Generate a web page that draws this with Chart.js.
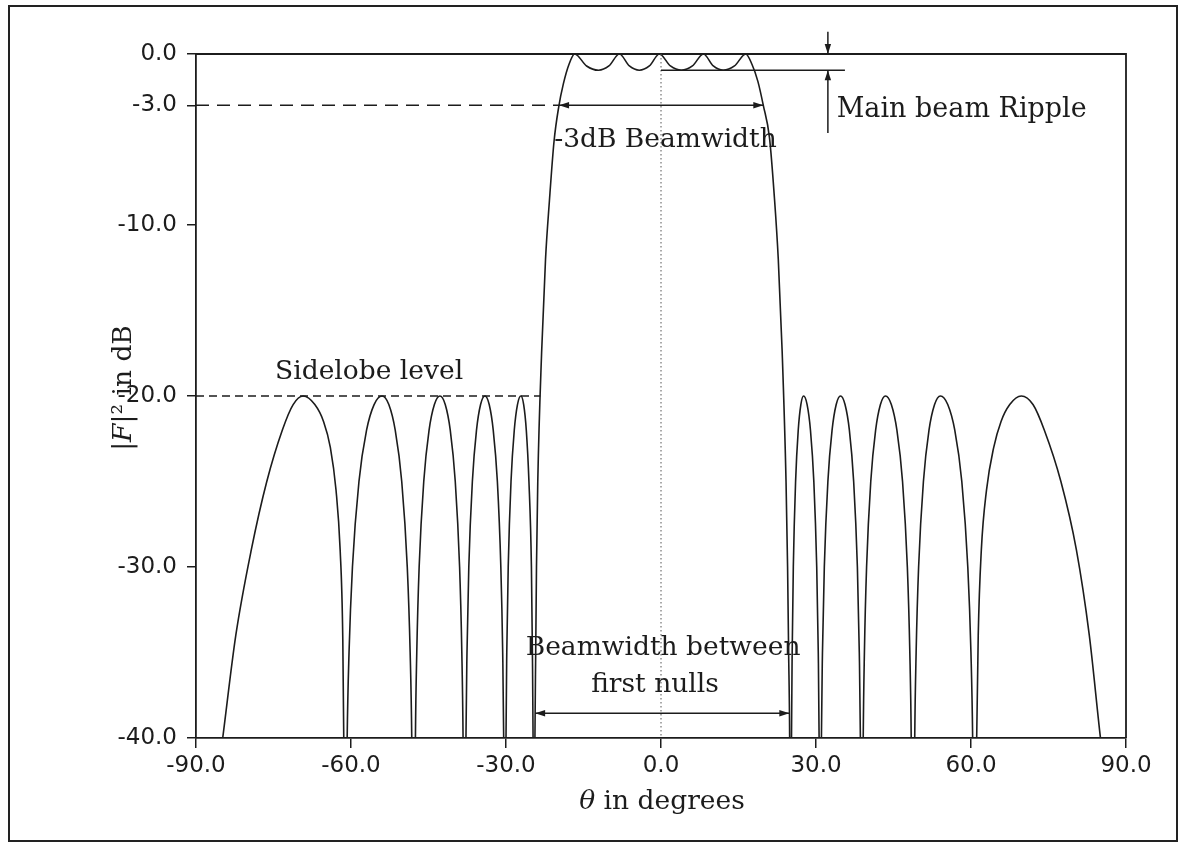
<!DOCTYPE html>
<html>
<head>
<meta charset="utf-8">
<script src="https://cdn.jsdelivr.net/npm/chart.js@4.4.0/dist/chart.umd.min.js"></script>
<style>
  html, body { margin: 0; padding: 0; background: #fff; }
  #wrap { position: relative; width: 1184px; height: 849px; overflow: hidden; }
  #frame { position: absolute; left: 8px; top: 5px; width: 1170px; height: 837px; border: 2px solid #222; box-sizing: border-box; }
  #chart { position: absolute; left: 0; top: 0; }
</style>
</head>
<body>
<div id="wrap">
  <div id="frame"></div>
  <canvas id="chart" width="1184" height="849"></canvas>
</div>
<script>
// theta in degrees, |F|^2 in dB; nulls go below -40 and get clipped by the axis
const leftLobes = [
  [-90, -52], [-84.83, -40], [-82.3, -34], [-79.3, -29], [-76.3, -25], [-73.3, -22], [-71.2, -20.5], [-69.27, -20],
  [-67.0, -20.5], [-65.3, -21.5], [-64.0, -23], [-62.9, -25.5], [-62.1, -29], [-61.6, -34], [-61.4, -40], [-61.2, -55],
  [-60.74, -40], [-60.38, -35], [-59.72, -30], [-58.46, -25], [-56.99, -22], [-55.53, -20.5], [-53.99, -20],
  [-52.68, -20.5], [-51.44, -22], [-50.18, -25], [-49.11, -30], [-48.55, -35], [-48.24, -40], [-47.85, -55],
  [-47.53, -40], [-47.27, -35], [-46.81, -30], [-45.92, -25], [-44.89, -22], [-43.86, -20.5], [-42.78, -20],
  [-41.76, -20.5], [-40.79, -22], [-39.82, -25], [-38.98, -30], [-38.55, -35], [-38.31, -40], [-38.0, -55],
  [-37.75, -40], [-37.55, -35], [-37.2, -30], [-36.51, -25], [-35.71, -22], [-34.92, -20.5], [-34.08, -20],
  [-33.25, -20.5], [-32.47, -22], [-31.67, -25], [-31.0, -30], [-30.64, -35], [-30.45, -40], [-30.2, -55],
  [-30.0, -40], [-29.85, -35], [-29.57, -30], [-29.03, -25], [-28.4, -22], [-27.78, -20.5], [-27.12, -20],
  [-26.58, -20.5], [-26.07, -22], [-25.56, -25], [-25.08, -30], [-24.89, -35], [-24.76, -40], [-24.6, -55]
];

const mainBeam = [
  [-24.4, -40], [-24.25, -35], [-24.1, -30], [-23.85, -25], [-23.1, -17.4], [-22.35, -12], [-21.6, -8.6],
  [-20.7, -5.1], [-19.8, -3.1], [-18.9, -1.75], [-17.8, -0.6], [-16.7, 0],
  [-14.4, -0.7], [-12.1, -0.95], [-10.08, -0.7], [-8.05, 0], [-6.12, -0.7], [-4.2, -0.95], [-2.25, -0.7], [-0.3, 0],
  [1.82, -0.7], [3.95, -0.95], [6.08, -0.7], [8.2, 0], [10.12, -0.7], [12.05, -0.95], [14.22, -0.7], [16.4, 0],
  [17.6, -0.6], [18.75, -1.6], [19.8, -3.0], [21.0, -4.9], [21.95, -8.4], [22.7, -12], [23.45, -17.4],
  [24.2, -25], [24.5, -30], [24.7, -35], [24.9, -40]
];

const rightLobes = [
  [25.1, -55],
  [25.26, -40], [25.39, -35], [25.61, -30], [26.05, -25], [26.56, -22], [27.07, -20.5], [27.6, -20],
  [28.28, -20.5], [28.93, -22], [29.58, -25], [30.14, -30], [30.44, -35], [30.6, -40], [30.8, -55],
  [31.05, -40], [31.25, -35], [31.61, -30], [32.3, -25], [33.11, -22], [33.91, -20.5], [34.75, -20],
  [35.62, -20.5], [36.46, -22], [37.29, -25], [38.01, -30], [38.38, -35], [38.59, -40], [38.85, -55],
  [39.14, -40], [39.37, -35], [39.79, -30], [40.6, -25], [41.54, -22], [42.47, -20.5], [43.45, -20],
  [44.58, -20.5], [45.66, -22], [46.75, -25], [47.68, -30], [48.16, -35], [48.43, -40], [48.77, -55],
  [49.11, -40], [49.38, -35], [49.86, -30], [50.79, -25], [51.87, -22], [52.95, -20.5], [54.08, -20],
  [55.5, -20.5], [56.86, -22], [58.22, -25], [59.38, -30], [59.99, -35], [60.32, -40], [60.75, -55],
  [61.1, -40], [61.4, -34], [62.0, -29], [63.0, -25.5], [64.4, -23], [65.8, -21.5], [67.5, -20.5], [69.74, -20],
  [72.0, -20.5], [74.2, -22], [77.4, -25], [80.4, -29], [82.9, -34], [85.06, -40], [90, -52]
];

const xTicks = [-90, -60, -30, 0, 30, 60, 90];
const yTicks = [0, -3, -10, -20, -30, -40];

// annotation anchors, in degrees / dB
const halfPowerDb = -3;
const halfPowerEdges = [-19.73, 19.8];
const sidelobeDb = -20;
const sidelobeEdge = -23.36;
const rippleDb = -0.95;
const rippleLineEnd = 35.6;
const rippleMarker = 32.3;
const nullArrowDb = -38.55;
const firstNulls = [-24.36, 24.84];

const ink = '#1c1c1c';
const serif = '"DejaVu Serif", serif';

const notes = [
  { text: '-3dB Beamwidth', x: 0.87, y: -5.42, align: 'center' },
  { text: 'Main beam Ripple', x: 34.0, y: -3.67, align: 'left' },
  { text: 'Sidelobe level', x: -74.7, y: -19.02, align: 'left' },
  { text: 'Beamwidth between', x: 0.4, y: -35.15, align: 'center' },
  { text: 'first nulls', x: -1.16, y: -37.3, align: 'center' }
];

function head(ctx, x, y, angle) {
  ctx.save();
  ctx.translate(x, y);
  ctx.rotate(angle);
  ctx.beginPath();
  ctx.moveTo(0, 0);
  ctx.lineTo(-10, -3.2);
  ctx.lineTo(-10, 3.2);
  ctx.closePath();
  ctx.fill();
  ctx.restore();
}

function seg(ctx, x1, y1, x2, y2) {
  ctx.beginPath();
  ctx.moveTo(x1, y1);
  ctx.lineTo(x2, y2);
  ctx.stroke();
}

function runs(ctx, parts, x, y, size, align) {
  let total = 0;
  parts.forEach(p => {
    ctx.font = (p[1] ? 'italic ' : '') + size + 'px ' + serif;
    p.w = ctx.measureText(p[0]).width;
    total += p.w;
  });
  let cx = align === 'center' ? x - total / 2 : x;
  parts.forEach(p => {
    ctx.font = (p[1] ? 'italic ' : '') + size + 'px ' + serif;
    ctx.fillText(p[0], cx, y);
    cx += p.w;
  });
}

const annotate = {
  id: 'annotate',
  afterDraw(chart) {
    const { ctx, chartArea: a } = chart;
    const px = v => chart.scales.x.getPixelForValue(v);
    const py = v => chart.scales.y.getPixelForValue(v);
    ctx.save();
    ctx.strokeStyle = ink;
    ctx.fillStyle = ink;
    ctx.textAlign = 'left';
    ctx.textBaseline = 'alphabetic';

    // top and right of the plot box
    ctx.lineWidth = 1.8;
    ctx.beginPath();
    ctx.moveTo(a.left, a.top);
    ctx.lineTo(a.right, a.top);
    ctx.lineTo(a.right, a.bottom);
    ctx.stroke();

    // theta = 0
    ctx.lineWidth = 1;
    ctx.strokeStyle = '#555';
    ctx.setLineDash([1.5, 2.5]);
    seg(ctx, px(0), a.top, px(0), a.bottom);

    // -3 dB and sidelobe level dashes
    ctx.strokeStyle = ink;
    ctx.lineWidth = 1.6;
    ctx.setLineDash([13, 8]);
    seg(ctx, a.left, py(halfPowerDb), px(halfPowerEdges[0]), py(halfPowerDb));
    ctx.setLineDash([8, 5]);
    seg(ctx, a.left, py(sidelobeDb), px(sidelobeEdge), py(sidelobeDb));
    ctx.setLineDash([]);

    // 3 dB beamwidth arrow
    ctx.lineWidth = 1.5;
    let y3 = py(halfPowerDb);
    seg(ctx, px(halfPowerEdges[0]), y3, px(halfPowerEdges[1]), y3);
    head(ctx, px(halfPowerEdges[0]), y3, Math.PI);
    head(ctx, px(halfPowerEdges[1]), y3, 0);

    // first nulls arrow
    let yn = py(nullArrowDb);
    seg(ctx, px(firstNulls[0]), yn, px(firstNulls[1]), yn);
    head(ctx, px(firstNulls[0]), yn, Math.PI);
    head(ctx, px(firstNulls[1]), yn, 0);

    // ripple markers
    let yr = py(rippleDb);
    seg(ctx, px(0), yr, px(rippleLineEnd), yr);
    let xm = px(rippleMarker);
    seg(ctx, xm, py(1.3), xm, py(0));
    head(ctx, xm, py(0), Math.PI / 2);
    seg(ctx, xm, py(-4.62), xm, yr);
    head(ctx, xm, yr, -Math.PI / 2);

    // notes
    notes.forEach(n => runs(ctx, [[n.text, false]], px(n.x), py(n.y), n.text === 'Main beam Ripple' ? 27 : 26.5, n.align));

    // axis titles
    runs(ctx, [['\u03b8', true], [' in degrees', false]], 662, 809, 26.5, 'center');
    ctx.save();
    ctx.translate(131, 388);
    ctx.rotate(-Math.PI / 2);
    runs(ctx, [['|', false], ['F', true], ['|\u00b2 in dB', false]], 0, 0, 26.5, 'center');
    ctx.restore();

    ctx.restore();
  }
};

const points = leftLobes.concat(mainBeam, rightLobes).map(p => ({ x: p[0], y: p[1] }));

const tickFont = { family: '"DejaVu Sans", sans-serif', size: 23 };

new Chart(document.getElementById('chart').getContext('2d'), {
  type: 'line',
  data: {
    datasets: [{
      data: points,
      borderColor: ink,
      borderWidth: 1.6,
      pointRadius: 0,
      fill: false,
      cubicInterpolationMode: 'monotone'
    }]
  },
  options: {
    responsive: false,
    animation: false,
    devicePixelRatio: 1,
    layout: { padding: { left: 0, top: 54, right: 58, bottom: 0 } },
    plugins: { legend: { display: false }, tooltip: { enabled: false } },
    scales: {
      x: {
        type: 'linear',
        min: -90,
        max: 90,
        afterBuildTicks: s => { s.ticks = xTicks.map(v => ({ value: v })); },
        afterFit: s => { s.height = 111; },
        grid: { drawOnChartArea: false, tickLength: 10, color: ink, lineWidth: 1.5 },
        border: { color: ink, width: 1.8 },
        ticks: { font: tickFont, color: ink, padding: 4, maxRotation: 0, callback: v => v.toFixed(1) }
      },
      y: {
        type: 'linear',
        min: -40,
        max: 0,
        afterBuildTicks: s => { s.ticks = yTicks.map(v => ({ value: v })); },
        afterFit: s => { s.width = 196; },
        grid: { drawOnChartArea: false, tickLength: 9, color: ink, lineWidth: 1.5 },
        border: { color: ink, width: 1.8 },
        ticks: { font: tickFont, color: ink, padding: 10, callback: v => v.toFixed(1) }
      }
    }
  },
  plugins: [annotate]
});
</script>
</body>
</html>
